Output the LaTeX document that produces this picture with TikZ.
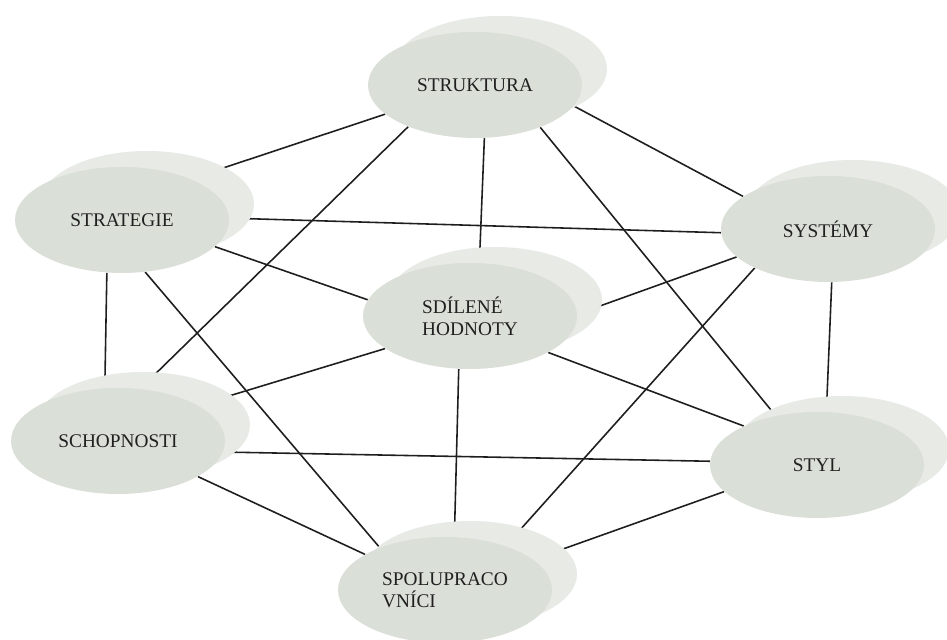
\documentclass[tikz,border=0pt]{standalone}
\usepackage{fontspec}
\setmainfont{Liberation Serif}
\usetikzlibrary{positioning, shapes.geometric, shadows, backgrounds}
\definecolor{discfront}{HTML}{DADFD8}
\definecolor{discback}{HTML}{E7EAE5}
\definecolor{inkgrey}{HTML}{202020}
\definecolor{linegrey}{HTML}{1E1E1E}

\begin{document}
\begin{tikzpicture}[
    font=\fontsize{11}{12.5}\selectfont,
    disc/.style={ellipse, fill=discfront, inner sep=0pt, minimum width=4.28cm, minimum height=2.12cm, align=left, text=inkgrey,
        drop shadow={shadow xshift=0.5cm, shadow yshift=0.32cm, fill=discback, opacity=1}},
    link/.style={line width=0.9pt, linegrey}
]
\useasboundingbox (0,0) rectangle (18.94,12.8);

% ==================== DISCS ====================
\node[disc] (struktura) at (9.5, 11.1) {STRUKTURA};
\node[disc] (strategie) at (2.44, 8.4) {STRATEGIE};
\node[disc] (systemy) at (16.56, 8.22) {SYSTÉMY};
\node[disc] (hodnoty) at (9.4, 6.48) {SDÍLENÉ\\HODNOTY};
\node[disc] (schopnosti) at (2.36, 3.98) {SCHOPNOSTI};
\node[disc] (styl) at (16.34, 3.5) {STYL};
\node[disc] (spolu) at (8.9, 1.0) {SPOLUPRACO\\VNÍCI};

% ==================== LINKS ====================
\begin{scope}[on background layer]
\draw[link] (struktura.198) -- (strategie.31);
\draw[link] (struktura.-148) -- (schopnosti.67);
\draw[link] (struktura.-80) -- (hodnoty.80);
\draw[link] (struktura.-33) -- (styl.130);
\draw[link] (struktura.-12) -- (systemy.159);

\draw[link] (strategie.1) -- (systemy.-178);
\draw[link] (strategie.-16) -- (hodnoty.171);
\draw[link] (strategie.-106) -- (schopnosti.104);
\draw[link] (strategie.-66) -- (spolu.147);

\draw[link] (systemy.-163) -- (hodnoty.1);
\draw[link] (systemy.-152) -- (spolu.36);
\draw[link] (systemy.-86) -- (styl.80);

\draw[link] (hodnoty.-159) -- (schopnosti.24);
\draw[link] (hodnoty.-25) -- (styl.152);
\draw[link] (hodnoty.-102) -- (spolu.80);

\draw[link] (schopnosti.-6) -- (styl.178);
\draw[link] (schopnosti.-24) -- (spolu.156);
\draw[link] (styl.-164) -- (spolu.19);
\end{scope}

\end{tikzpicture}
\end{document}
